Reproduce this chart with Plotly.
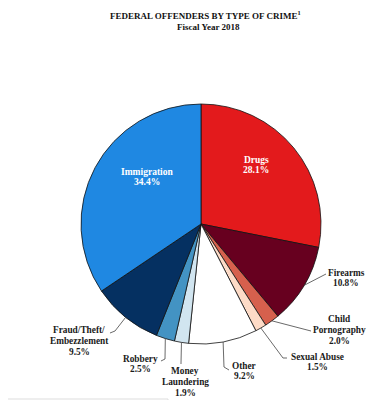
import math
import plotly.graph_objects as go

W, H = 380, 400

# ---- data ----
categories = ["Drugs", "Firearms", "Child<br>Pornography", "Sexual Abuse", "Other",
              "Money<br>Laundering", "Robbery", "Fraud/Theft/<br>Embezzlement", "Immigration"]
values = [28.1, 10.8, 2.0, 1.5, 9.2, 1.9, 2.5, 9.5, 34.4]
pct_labels = ["28.1%", "10.8%", "2.0%", "1.5%", "9.2%", "1.9%", "2.5%", "9.5%", "34.4%"]

# ---- styles / layout positions (pixels) ----
colors = ["#E31A1C", "#67001F", "#D6604D", "#FDDBC7", "#FFFFFF",
          "#D1E5F0", "#4393C3", "#053061", "#1F88E2"]
CX, CY, R = 193, 216, 120
FONT = "Liberation Serif"
LINE_H = 10.7

# label placement: (text center x, text center y, inside?, leader path after edge point)
label_pos = [
    (248, 157, True, None),
    (338, 270, False, [(318, 266)]),
    (331, 322, False, [(303, 323)]),
    (309, 354, False, [(275, 350), (279, 350)]),
    (236, 363, False, [(216, 359), (221, 362)]),
    (177, 374, False, [(173, 356)]),
    (132, 356, False, [(157, 351), (153, 353)]),
    (71, 333, False, [(107, 323), (102, 325)]),
    (139, 169, True, None),
]


def px(x):
    return x / W


def py(y):
    return 1 - y / H


fig = go.Figure(go.Pie(
    labels=[c.replace("<br>", " ") for c in categories],
    values=values,
    sort=False,
    direction="clockwise",
    rotation=0,
    marker=dict(colors=colors, line=dict(color="#111111", width=0.8)),
    textinfo="none",
    hoverinfo="label+percent",
    showlegend=False,
    domain=dict(x=[px(CX - R), px(CX + R)], y=[py(CY + R), py(CY - R)]),
))

annotations = []
shapes = []
total = sum(values)
cum = 0.0
for cat, v, pl, (lx, ly, inside, path) in zip(categories, values, pct_labels, label_pos):
    mid = (cum + v / 2) / total * 2 * math.pi
    cum += v
    lines = cat.split("<br>") + [pl]
    n = len(lines)
    for i, t in enumerate(lines):
        yy = ly + (i - (n - 1) / 2) * LINE_H
        annotations.append(dict(
            x=px(lx), y=py(yy), xref="paper", yref="paper", showarrow=False,
            text=f"<b>{t}</b>", align="center",
            font=dict(family=FONT, size=9.5 if inside else 9.3,
                      color="white" if inside else "#1a1a1a"),
            xanchor="center", yanchor="middle",
        ))
    if path:
        ex = CX + R * math.sin(mid)
        ey = CY - R * math.cos(mid)
        pts = [(ex, ey)] + path
        d = "M " + " L ".join(f"{px(x):.5f},{py(y):.5f}" for x, y in pts)
        shapes.append(dict(type="path", path=d, xref="paper", yref="paper",
                           line=dict(color="#444444", width=0.8)))

# title
annotations.append(dict(
    x=px(198), y=py(7), xref="paper", yref="paper", showarrow=False,
    text="<b>FEDERAL OFFENDERS BY TYPE OF CRIME<sup>1</sup></b>",
    font=dict(family=FONT, size=9, color="#111111"), xanchor="center", yanchor="middle"))
annotations.append(dict(
    x=px(200), y=py(19), xref="paper", yref="paper", showarrow=False,
    text="<b>Fiscal Year 2018</b>",
    font=dict(family=FONT, size=9, color="#111111"), xanchor="center", yanchor="middle"))

# faint frame line at bottom left
shapes.append(dict(type="path",
                   path=f"M 0,{py(391)} L {px(160)},{py(391)} L {px(160)},0",
                   xref="paper", yref="paper", line=dict(color="#DDDDDD", width=1)))

fig.update_layout(
    width=W, height=H,
    margin=dict(l=0, r=0, t=0, b=0),
    paper_bgcolor="white", plot_bgcolor="white",
    annotations=annotations, shapes=shapes,
)

fig.write_html("out.html")
